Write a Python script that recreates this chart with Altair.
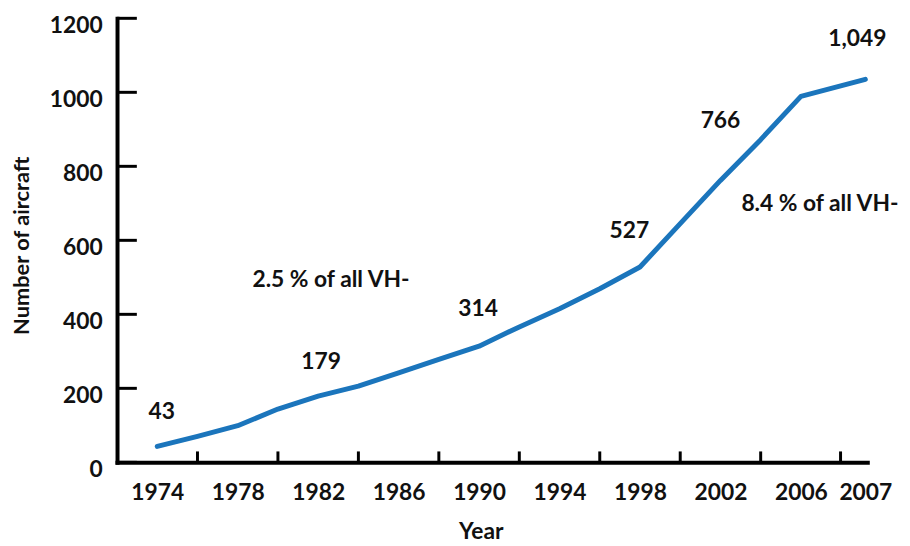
import altair as alt
import pandas as pd

# ---- data ----
years = [1974, 1976, 1978, 1980, 1982, 1984, 1986, 1988, 1990, 1992,
         1994, 1996, 1998, 2000, 2002, 2004, 2006, 2007]
aircraft = [43, 70, 99, 144, 179, 206, 242, 278, 314, 366,
            415, 469, 528, 645, 762, 872, 989, 1035]

tick_label_years = [1974, 1978, 1982, 1986, 1990, 1994, 1998, 2002, 2006, 2007]
y_ticks = [0, 200, 400, 600, 800, 1000, 1200]

value_labels = ["43", "179", "314", "527", "766", "1,049"]
value_label_year = [1974.22, 1982.15, 1989.95, 1997.47, 2002.0, 2006.84]
value_label_pos = [136, 272, 415, 625, 922, 1145]

notes = ["2.5 % of all VH-", "8.4 % of all VH-"]
note_year = [1982.64, 2006.24]
note_pos = [493, 699]

# ---- tables ----
line_df = pd.DataFrame({"year": years, "value": aircraft})
labels_df = pd.DataFrame({"year": value_label_year + note_year,
                          "value": value_label_pos + note_pos,
                          "text": value_labels + notes})
# separators between the year labels
sep_years = [(a + b) / 2 for a, b in zip(tick_label_years[:-1], tick_label_years[1:])]
xtick_df = pd.DataFrame({"year": sep_years})
ytick_df = pd.DataFrame({"value": y_ticks})

W, H = 757, 448
FONT = "Lato"
INK = "#111111"
BLUE = "#1b75bc"

xscale = alt.Scale(domain=[1972, 2006, 2006.5, 2007.04], range=[0, 690, 730, 757],
                   zero=False, nice=False)
yscale = alt.Scale(domain=[0, 1200], zero=True, nice=False)

xaxis = alt.Axis(values=tick_label_years, format="d", grid=False, ticks=False, tickSize=0,
                 domainWidth=4, domainColor="#000000", domainCap="square",
                 labelFont=FONT, labelFontSize=23, labelFontWeight="bold", labelColor=INK,
                 labelPadding=19, labelFlush=False, labelOverlap=False,
                 title="Year", titleFont=FONT, titleFontSize=23, titleFontWeight="bold",
                 titleColor=INK, titleX=367, titleY=70, titleAlign="center",
                 titleBaseline="middle")
yaxis = alt.Axis(values=y_ticks, format="d", grid=False, ticks=False, tickSize=0,
                 domainWidth=4, domainColor="#000000", domainCap="square",
                 labelFont=FONT, labelFontSize=23, labelFontWeight="bold", labelColor=INK,
                 labelPadding=15, labelOffset=7, labelOverlap=False,
                 title="Number of aircraft", titleFont=FONT, titleFontSize=22,
                 titleFontWeight="bold", titleColor=INK, titleAngle=270,
                 titleX=-96, titleY=229, titleAlign="center", titleBaseline="middle")

X = alt.X("year:Q", scale=xscale, axis=xaxis)
Y = alt.Y("value:Q", scale=yscale, axis=yaxis)

line = alt.Chart(line_df).mark_line(color=BLUE, strokeWidth=5, strokeJoin="round",
                                    strokeCap="round").encode(x=X, y=Y)

text = alt.Chart(labels_df).mark_text(font=FONT, fontSize=23, fontWeight="bold",
                                      color=INK, align="center",
                                      baseline="middle").encode(x=X, y=Y, text="text:N")

xticks = alt.Chart(xtick_df).mark_rule(color="#000000", strokeWidth=3).encode(
    x=X, y=alt.value(H), y2=alt.value(H - 11))

yticks = alt.Chart(ytick_df).mark_rule(color="#000000", strokeWidth=3).encode(
    y=Y, x=alt.value(0), x2=alt.value(20))

chart = alt.layer(xticks, yticks, line, text).properties(
    width=W, height=H,
    autosize=alt.AutoSizeParams(type="none"),
    padding={"left": 110, "top": 8, "right": 35, "bottom": 82},
    background="white",
).configure_view(stroke=None)

chart.save("out.html", embed_options={"renderer": "svg", "actions": False})
